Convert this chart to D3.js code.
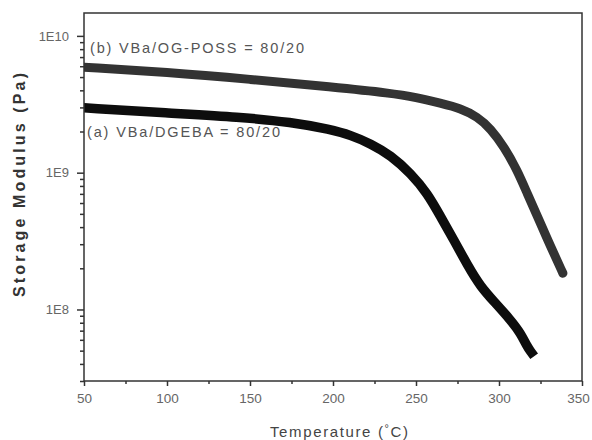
<!DOCTYPE html>
<html><head><meta charset="utf-8">
<script src="https://cdn.jsdelivr.net/npm/d3@7"></script>
<style>body{margin:0;background:#fff}svg{display:block}</style>
</head><body>
<svg id="c" width="592" height="440"></svg>
<script>
const xTicks = [50, 100, 150, 200, 250, 300, 350];
const yTicks = [1e8, 1e9, 1e10];
const yTickLabels = ["1E8", "1E9", "1E10"];
const seriesNames = ["(b) VBa/OG-POSS = 80/20", "(a) VBa/DGEBA = 80/20"];
const tempB = [50, 100, 150, 200, 235, 250, 265, 277, 287, 295, 303, 311, 317, 323.4, 331, 338.5];
const modB  = [5.9e9, 5.43e9, 4.82e9, 4.22e9, 3.81e9, 3.56e9, 3.21e9, 2.95e9, 2.56e9, 2.10e9, 1.55e9, 1.04e9, 7.04e8, 4.73e8, 2.9e8, 1.84e8];
const tempA = [50, 100, 144, 175, 198.6, 210.7, 222.7, 234.8, 246.9, 256.9, 264.9, 272.9, 281, 289, 298, 307, 313, 317, 319.5];
const modA  = [2.98e9, 2.73e9, 2.55e9, 2.34e9, 2.07e9, 1.88e9, 1.63e9, 1.34e9, 9.86e8, 7.05e8, 4.75e8, 3.21e8, 2.11e8, 1.46e8, 1.11e8, 8.37e7, 6.72e7, 5.34e7, 4.85e7];

const svg = d3.select("#c");
const L = 84, R = 582, T = 13, B = 381;
const x = d3.scaleLinear().domain([50, 350]).range([L, R]);
const y = d3.scaleLog().domain([3e7, 1.47e10]).range([B, T]);

svg.append("defs").append("clipPath").attr("id", "clip")
  .append("rect").attr("x", L).attr("y", T).attr("width", R - L).attr("height", B - T);

const line = d3.line().x(d => x(d[0])).y(d => y(d[1])).curve(d3.curveBasis);
const dB = tempB.map((t, i) => [t, modB[i]]);
const dA = tempA.map((t, i) => [t, modA[i]]);
const g = svg.append("g").attr("clip-path", "url(#clip)");
g.append("path").attr("d", line(dB)).attr("fill", "none").attr("stroke", "#333")
  .attr("stroke-width", 9).attr("stroke-linecap", "round").attr("stroke-linejoin", "round");
g.append("path").attr("d", line(dA)).attr("fill", "none").attr("stroke", "#0d0d0d")
  .attr("stroke-width", 9.5).attr("stroke-linecap", "square").attr("stroke-linejoin", "round");

// frame
svg.append("rect").attr("x", L).attr("y", T).attr("width", R - L).attr("height", B - T)
  .attr("fill", "none").attr("stroke", "#333").attr("stroke-width", 1.5);

// x axis
const minorX = d3.range(75, 350, 50);
const xAxis = d3.axisBottom(x).tickValues(xTicks).tickSize(5).tickPadding(7).tickFormat(d3.format("d"));
const gx = svg.append("g").attr("transform", `translate(0,${B})`).call(xAxis);
gx.select(".domain").remove();
gx.selectAll("line").attr("stroke", "#333").attr("stroke-width", 1.5);
gx.selectAll("text").attr("fill", "#666").attr("font-family", "Liberation Sans, Arial, sans-serif").attr("font-size", 13.5)
  .attr("dx", d => d === 350 ? -4 : 0);
const gxm = svg.append("g").attr("transform", `translate(0,${B})`)
  .call(d3.axisBottom(x).tickValues(minorX).tickSize(3).tickFormat(""));
gxm.select(".domain").remove();
gxm.selectAll("line").attr("stroke", "#333").attr("stroke-width", 1.5);

// y axis
const yAxis = d3.axisLeft(y).tickValues(yTicks).tickSize(7).tickPadding(8)
  .tickFormat((d, i) => yTickLabels[i]);
const gy = svg.append("g").attr("transform", `translate(${L},0)`).call(yAxis);
gy.select(".domain").remove();
gy.selectAll("line").attr("stroke", "#333").attr("stroke-width", 1.5);
gy.selectAll("text").attr("fill", "#666").attr("font-family", "Liberation Sans, Arial, sans-serif").attr("font-size", 13);
const minorY = [];
[1e7, 1e8, 1e9].forEach(p => { for (let k = 2; k <= 9; k++) { const v = k * p; if (v >= 3e7 && v <= 1.47e10) minorY.push(v); } });
const gym = svg.append("g").attr("transform", `translate(${L},0)`)
  .call(d3.axisLeft(y).tickValues(minorY).tickSize(4).tickFormat(""));
gym.select(".domain").remove();
gym.selectAll("line").attr("stroke", "#333").attr("stroke-width", 1.5);

// series labels
svg.append("text").attr("x", 90).attr("y", 53).text(seriesNames[0])
  .attr("font-family", "Liberation Sans, Arial, sans-serif").attr("font-size", 14.5).attr("fill", "#555")
  .attr("textLength", 214).attr("lengthAdjust", "spacing");
svg.append("text").attr("x", 87).attr("y", 137).text(seriesNames[1])
  .attr("font-family", "Liberation Sans, Arial, sans-serif").attr("font-size", 14.5).attr("fill", "#555")
  .attr("textLength", 193).attr("lengthAdjust", "spacing");

// axis titles
svg.append("text").attr("transform", "translate(25,185) rotate(-90)").attr("text-anchor", "middle")
  .text("Storage Modulus (Pa)").attr("font-family", "Liberation Sans, Arial, sans-serif")
  .attr("font-size", 16).attr("font-weight", "bold").attr("fill", "#333")
  .attr("textLength", 224).attr("lengthAdjust", "spacing");
const xt = svg.append("text").attr("x", 339).attr("y", 437).attr("text-anchor", "middle")
  .attr("font-family", "Liberation Sans, Arial, sans-serif").attr("font-size", 15).attr("fill", "#444")
  .attr("textLength", 138).attr("lengthAdjust", "spacing");
xt.append("tspan").text("Temperature (");
xt.append("tspan").text("°").attr("dy", -5).attr("font-size", 11);
xt.append("tspan").text("C)").attr("dy", 5);
</script>
</body></html>
